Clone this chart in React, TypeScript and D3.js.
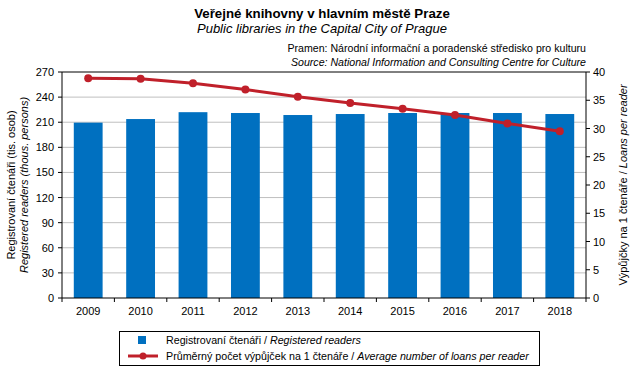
import React from "react";
import * as d3 from "d3";

const years = ["2009", "2010", "2011", "2012", "2013", "2014", "2015", "2016", "2017", "2018"];
const readers = [209.5, 213.8, 222, 221, 218.6, 219.8, 221, 221, 221, 219.8];
const loans = [38.9, 38.8, 38.0, 36.9, 35.6, 34.5, 33.5, 32.4, 30.9, 29.5];
const leftTicks = [0, 30, 60, 90, 120, 150, 180, 210, 240, 270];
const rightTicks = [0, 5, 10, 15, 20, 25, 30, 35, 40];

const W = 643, H = 375;
const L = 62, R = 586, T = 72, B = 298;
const FONT = "Liberation Sans, Arial, sans-serif";
const BLUE = "#0070C0";
const RED = "#C0202A";

export default function App() {
  const x = d3.scaleBand<string>().domain(years).range([L, R]).paddingInner(0.45).paddingOuter(0.225);
  const xc = d3.scaleBand<string>().domain(years).range([L, R]);
  const yL = d3.scaleLinear().domain([0, 270]).range([B, T]);
  const yR = d3.scaleLinear().domain([0, 40]).range([B, T]);
  const line = d3.line<number>().x((_, i) => xc(years[i])! + xc.bandwidth() / 2).y((d) => yR(d));

  return (
    <svg width={W} height={H} style={{ position: "absolute", left: 0, top: 0, background: "#fff" }} fontFamily={FONT}>
      <rect x={0} y={0} width={W} height={H} fill="#fff" />
      <text x={322} y={18} textAnchor="middle" fontSize={13.3} fontWeight="bold">Veřejné knihovny v hlavním městě Praze</text>
      <text x={322} y={33} textAnchor="middle" fontSize={13} fontStyle="italic">Public libraries in the Capital City of Prague</text>
      <text x={586} y={52} textAnchor="end" fontSize={10.6}>Pramen: Národní informační a poradenské středisko pro kulturu</text>
      <text x={586} y={66} textAnchor="end" fontSize={10.6} fontStyle="italic">Source: National Information and Consulting Centre for Culture</text>

      {leftTicks.slice(1, -1).map((t) => (
        <line key={"g" + t} x1={L} x2={R} y1={yL(t)} y2={yL(t)} stroke="#BFBFBF" strokeWidth={1} />
      ))}
      <line x1={L} x2={R} y1={yL(270)} y2={yL(270)} stroke="#000" strokeWidth={1} />

      {years.map((yr, i) => (
        <rect key={yr} x={x(yr)} y={yL(readers[i])} width={x.bandwidth()} height={B - yL(readers[i])} fill={BLUE} />
      ))}

      <path d={line(loans)!} fill="none" stroke={RED} strokeWidth={3} />
      {loans.map((v, i) => (
        <circle key={i} cx={xc(years[i])! + xc.bandwidth() / 2} cy={yR(v)} r={4} fill={RED} />
      ))}

      {/* axes */}
      <line x1={L} x2={L} y1={T} y2={B} stroke="#000" />
      <line x1={R} x2={R} y1={T} y2={B} stroke="#000" />
      <line x1={L} x2={R} y1={B} y2={B} stroke="#000" />
      {leftTicks.map((t) => (
        <g key={"l" + t}>
          <line x1={L - 4} x2={L} y1={yL(t)} y2={yL(t)} stroke="#000" />
          <text x={L - 8} y={yL(t) + 4} textAnchor="end" fontSize={11}>{t}</text>
        </g>
      ))}
      {rightTicks.map((t) => (
        <g key={"r" + t}>
          <line x1={R} x2={R + 4} y1={yR(t)} y2={yR(t)} stroke="#000" />
          <text x={R + 7} y={yR(t) + 4} textAnchor="start" fontSize={11}>{t}</text>
        </g>
      ))}
      {years.map((yr) => (
        <line key={"xt" + yr} x1={xc(yr)!} x2={xc(yr)!} y1={B} y2={B + 4} stroke="#000" />
      ))}
      <line x1={R} x2={R} y1={B} y2={B + 4} stroke="#000" />
      {years.map((yr) => (
        <text key={"xl" + yr} x={xc(yr)! + xc.bandwidth() / 2} y={315} textAnchor="middle" fontSize={11}>{yr}</text>
      ))}

      <text transform={`translate(15,185) rotate(-90)`} textAnchor="middle" fontSize={11}>Registrovaní čtenáři (tis. osob)</text>
      <text transform={`translate(28,185) rotate(-90)`} textAnchor="middle" fontSize={11} fontStyle="italic">Registered readers (thous. persons)</text>
      <text transform={`translate(627,185) rotate(-90)`} textAnchor="middle" fontSize={11}>
        Výpůjčky na 1 čtenáře / <tspan fontStyle="italic">Loans per reader</tspan>
      </text>

      {/* legend */}
      <rect x={119.5} y={331.5} width={420} height={34} fill="#fff" stroke="#000" />
      <rect x={138} y={336} width={8} height={8} fill={BLUE} />
      <text x={166} y={344} fontSize={10.7}>Registrovaní čtenáři / <tspan fontStyle="italic">Registered readers</tspan></text>
      <line x1={128} x2={158} y1={356} y2={356} stroke={RED} strokeWidth={3} />
      <circle cx={143} cy={356} r={3.5} fill={RED} />
      <text x={166} y={360} fontSize={10.7}>Průměrný počet výpůjček na 1 čtenáře / <tspan fontStyle="italic">Average number of loans per reader</tspan></text>
    </svg>
  );
}
